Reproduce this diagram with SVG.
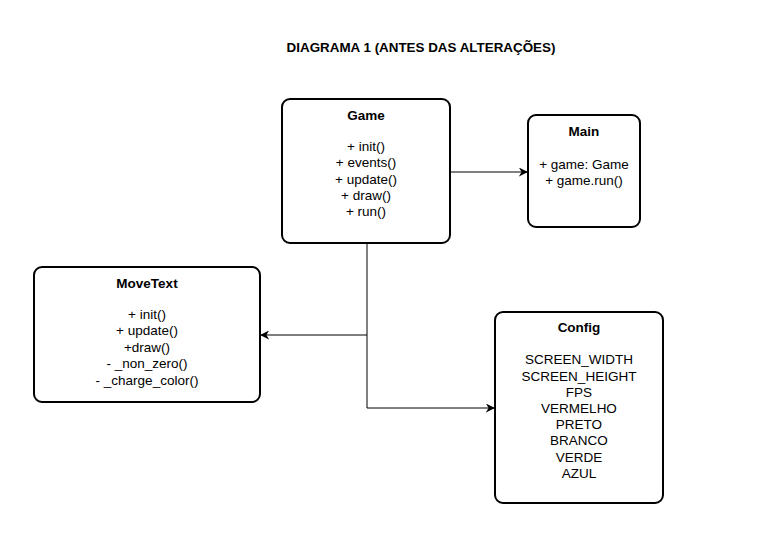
<svg xmlns="http://www.w3.org/2000/svg" width="781" height="550" viewBox="0 0 781 550">
<style>
.box{fill:#fff;stroke:#000;stroke-width:2}
text{font-family:"Liberation Sans",Arial,sans-serif;font-size:13.5px;fill:#000;text-anchor:middle}
.b{font-weight:bold}
.t{font-weight:bold;font-size:13.4px}
.c{fill:none;stroke:#000;stroke-width:1}
</style>
<defs>
<marker id="arr" viewBox="0 0 10 10" refX="9" refY="5" markerWidth="9" markerHeight="9" markerUnits="userSpaceOnUse" orient="auto">
<path d="M0,0 L10,5 L0,10 L3,5 Z" fill="#000"/>
</marker>
</defs>
<rect width="781" height="550" fill="#fff"/>
<text class="t" x="421" y="52">DIAGRAMA 1 (ANTES DAS ALTERAÇÕES)</text>
<g id="connectors">
<path class="c" d="M450,172 L527,172" marker-end="url(#arr)"/>
<path class="c" d="M367,243 L367,408 L494,408" marker-end="url(#arr)"/>
<path class="c" d="M367,335 L261,335" marker-end="url(#arr)"/>
</g>
<g id="game">
<rect class="box" x="282" y="99" width="168" height="144" rx="8"/>
<text class="b" x="366" y="120">Game</text>
<text x="366" y="151">+ init()</text>
<text x="366" y="167">+ events()</text>
<text x="366" y="184">+ update()</text>
<text x="366" y="200">+ draw()</text>
<text x="366" y="216">+ run()</text>
</g>
<g id="main">
<rect class="box" x="528" y="115" width="112" height="112" rx="8"/>
<text class="b" x="584" y="136">Main</text>
<text x="584" y="169">+ game: Game</text>
<text x="584" y="185">+ game.run()</text>
</g>
<g id="movetext">
<rect class="box" x="34" y="267" width="226" height="135" rx="8"/>
<text class="b" x="147" y="288">MoveText</text>
<text x="147" y="319">+ init()</text>
<text x="147" y="335">+ update()</text>
<text x="147" y="352">+draw()</text>
<text x="147" y="368">- _non_zero()</text>
<text x="147" y="385">- _charge_color()</text>
</g>
<g id="config">
<rect class="box" x="495" y="312" width="168" height="191" rx="8"/>
<text class="b" x="579" y="332">Config</text>
<text x="579" y="364">SCREEN_WIDTH</text>
<text x="579" y="381">SCREEN_HEIGHT</text>
<text x="579" y="397">FPS</text>
<text x="579" y="413">VERMELHO</text>
<text x="579" y="429">PRETO</text>
<text x="579" y="445">BRANCO</text>
<text x="579" y="462">VERDE</text>
<text x="579" y="478">AZUL</text>
</g>
</svg>
